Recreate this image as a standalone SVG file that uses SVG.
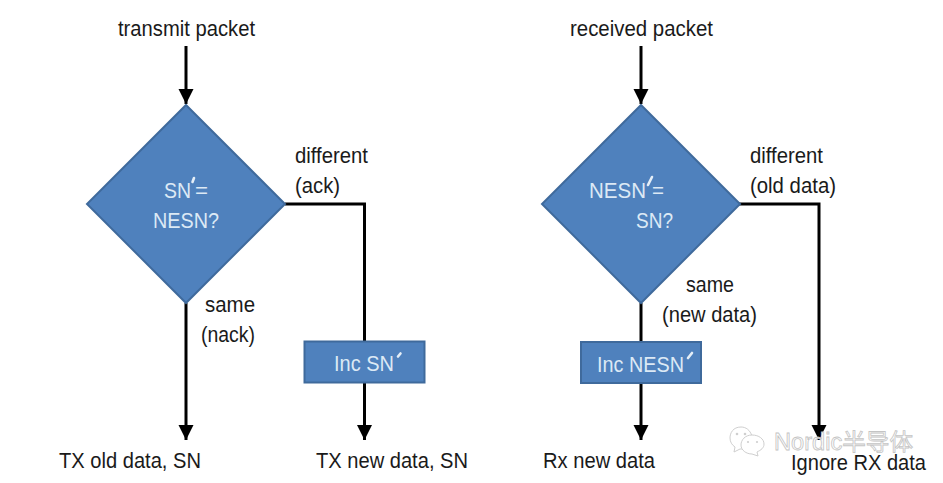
<svg xmlns="http://www.w3.org/2000/svg" width="943" height="483" viewBox="0 0 943 483">
<style>
text{font-family:"Liberation Sans",Arial,sans-serif;font-size:22px;fill:#1a1a1a}
.w{fill:#dce9f5}
.s{fill:#4f81bd;stroke:#3f6a9c;stroke-width:2}
.c{fill:none;stroke:#000;stroke-width:3}
.a{fill:none;stroke:#000;stroke-width:3;marker-end:url(#h)}
.p{stroke:#e4eef7;stroke-width:2.6;stroke-linecap:round;fill:none}
.wm{font-size:23px;fill:#fff;stroke:#c4c4c4;stroke-width:.8;font-family:"Liberation Sans","Noto Sans CJK SC",sans-serif}
.wi{fill:#fff;stroke:#cfcfcf;stroke-width:1}
.e{fill:#cfcfcf}
</style>
<defs>
<marker id="h" markerUnits="userSpaceOnUse" markerWidth="16" markerHeight="16" refX="15" refY="7.5" orient="auto">
<path d="M0 0L15 7.5L0 15Z" fill="#000"/>
</marker>
</defs>
<rect width="943" height="483" fill="#fff"/>
<g id="connectors">
<path class="a" d="M186 46V104"/>
<path class="a" d="M186 303V440"/>
<path class="c" d="M285 204H364.500V341"/>
<path class="a" d="M364.500 382V440"/>
<path class="a" d="M641 46V104"/>
<path class="c" d="M641 303V342"/>
<path class="a" d="M641 382V440"/>
<path class="a" d="M739 204H819V440"/>
</g>
<g id="start-tx"><text x="118" y="36" textLength="137" lengthAdjust="spacingAndGlyphs">transmit packet</text></g>
<g id="start-rx"><text x="570" y="36" textLength="143" lengthAdjust="spacingAndGlyphs">received packet</text></g>
<g id="decision-tx">
<path class="s" d="M186 105L285 204L186 303L87 204Z"/>
<text class="w" x="164" y="198" textLength="27" lengthAdjust="spacingAndGlyphs">SN</text>
<path class="p" d="M194 178L192.500 182"/>
<text class="w" x="195" y="198" textLength="13" lengthAdjust="spacingAndGlyphs">=</text>
<text class="w" x="153" y="228" textLength="66" lengthAdjust="spacingAndGlyphs">NESN?</text>
</g>
<g id="decision-rx">
<path class="s" d="M641 105L740 204L641 303L542 204Z"/>
<text class="w" x="589" y="198" textLength="57" lengthAdjust="spacingAndGlyphs">NESN</text>
<path class="p" d="M652 177L648 185"/>
<text class="w" x="652" y="198" textLength="12" lengthAdjust="spacingAndGlyphs">=</text>
<text class="w" x="636" y="228" textLength="37" lengthAdjust="spacingAndGlyphs">SN?</text>
</g>
<g id="inc-sn">
<rect class="s" x="304.500" y="341.500" width="120" height="41"/>
<text class="w" x="334" y="371" textLength="60" lengthAdjust="spacingAndGlyphs">Inc SN</text>
<path class="p" d="M400.500 353.500L398 356.500"/>
</g>
<g id="inc-nesn">
<rect class="s" x="581" y="342" width="120" height="41"/>
<text class="w" x="597" y="372" textLength="87" lengthAdjust="spacingAndGlyphs">Inc NESN</text>
<path class="p" d="M692 353L688 358"/>
</g>
<g id="labels">
<text x="295" y="163" textLength="73" lengthAdjust="spacingAndGlyphs">different</text>
<text x="295" y="193" textLength="45" lengthAdjust="spacingAndGlyphs">(ack)</text>
<text x="750" y="163" textLength="73" lengthAdjust="spacingAndGlyphs">different</text>
<text x="750" y="193" textLength="86" lengthAdjust="spacingAndGlyphs">(old data)</text>
<text x="205" y="312" textLength="50" lengthAdjust="spacingAndGlyphs">same</text>
<text x="201" y="342" textLength="54" lengthAdjust="spacingAndGlyphs">(nack)</text>
<text x="686" y="292" textLength="48" lengthAdjust="spacingAndGlyphs">same</text>
<text x="662" y="322" textLength="95" lengthAdjust="spacingAndGlyphs">(new data)</text>
<text x="59" y="468" textLength="142" lengthAdjust="spacingAndGlyphs">TX old data, SN</text>
<text x="316" y="468" textLength="152" lengthAdjust="spacingAndGlyphs">TX new data, SN</text>
<text x="543" y="468" textLength="112" lengthAdjust="spacingAndGlyphs">Rx new data</text>
<text x="791" y="470" textLength="135" lengthAdjust="spacingAndGlyphs">Ignore RX data</text>
</g>
<g id="watermark">
<path class="wi" d="M741 427C733 427 730 433 730 438C730 442 732 445 735 447L734 452L740 449L745 449L752 436C750 430 746 427 741 427Z"/>
<path class="wi" d="M752 435C745 435 741 440 741 445C741 450 746 454 752 454L758 456L757 452C761 450 764 448 764 444C764 439 759 435 752 435Z"/>
<circle class="e" cx="737" cy="434" r="1.300"/><circle class="e" cx="745" cy="434" r="1.300"/>
<circle class="e" cx="748" cy="442" r="1.100"/><circle class="e" cx="757" cy="442" r="1.100"/>
<text class="wm" x="774" y="450" textLength="139" lengthAdjust="spacingAndGlyphs">Nordic半导体</text>
</g>
</svg>
